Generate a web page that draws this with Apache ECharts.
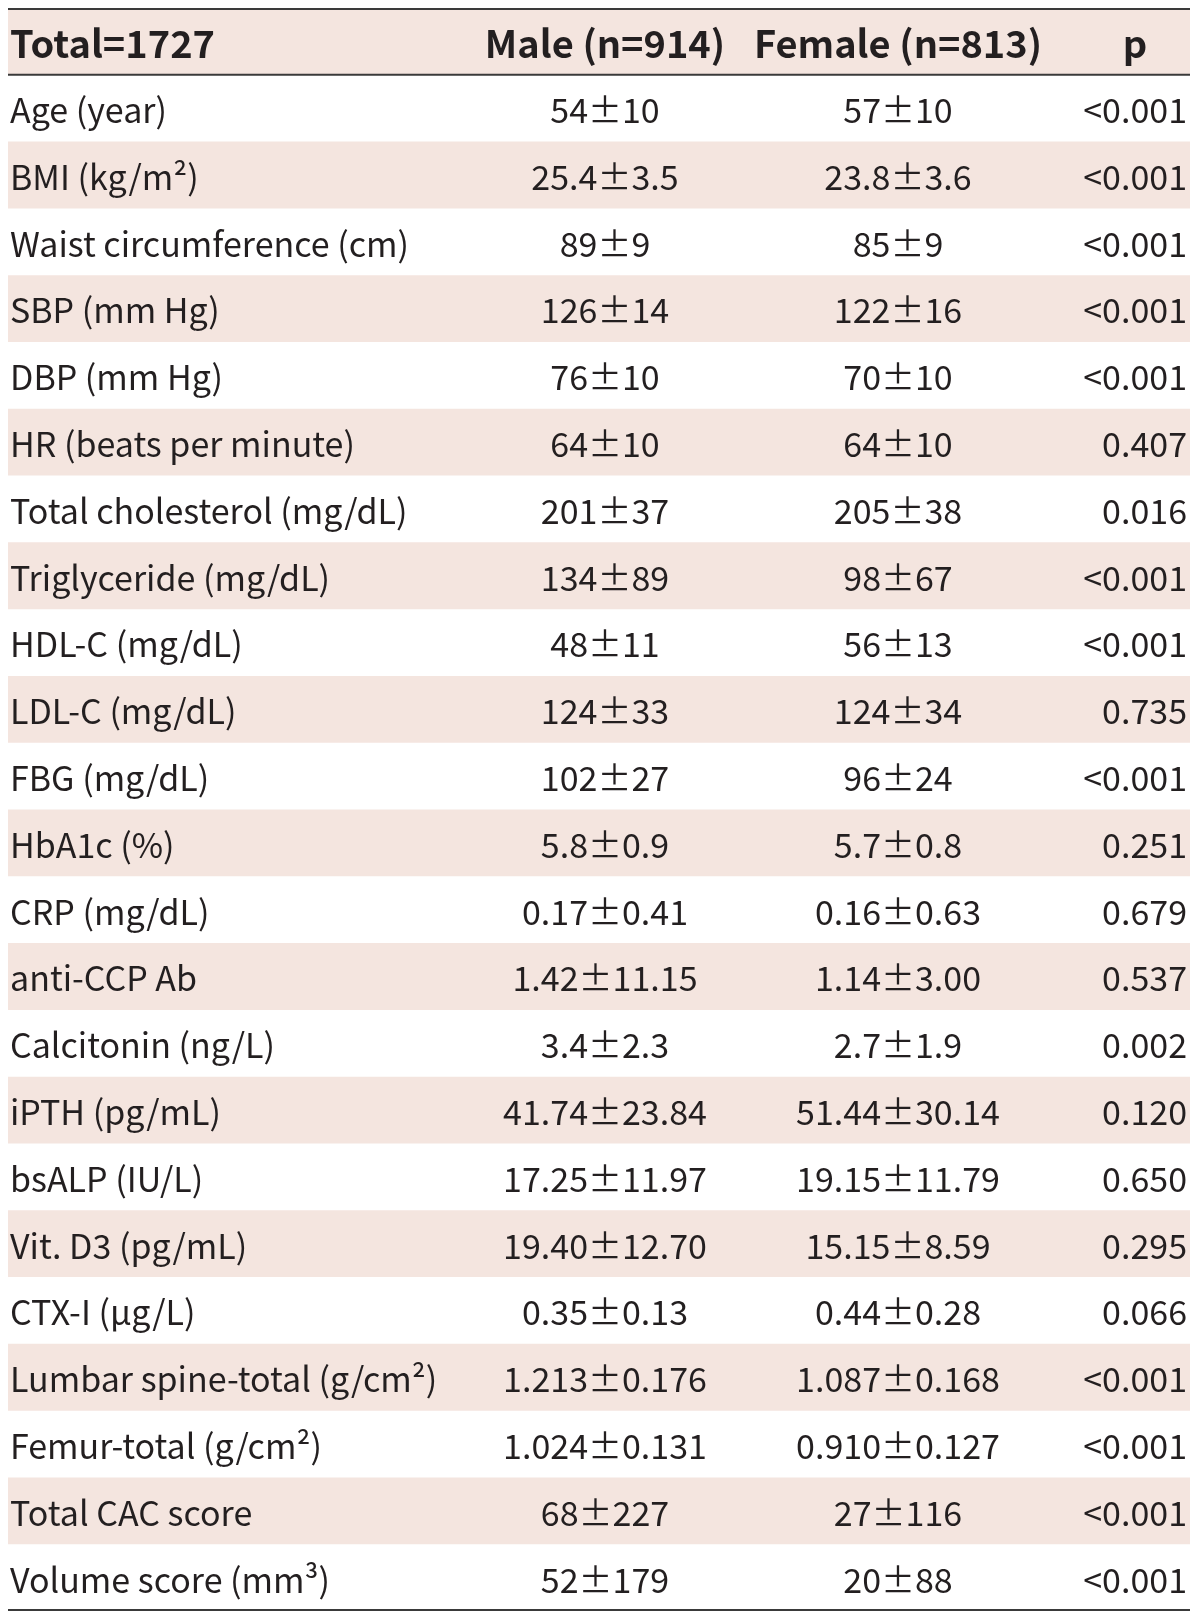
<!DOCTYPE html>
<html>
<head>
<meta charset="utf-8">
<script src="https://cdn.jsdelivr.net/npm/echarts@6/dist/echarts.min.js"></script>
<style>html,body{margin:0;padding:0;background:#fff}#c{width:1200px;height:1622px}</style>
</head>
<body>
<div id="c"></div>
<script>
const headerLabels = ['Total=1727', 'Male (n=914)', 'Female (n=813)', 'p'];
const rowLabels = [
  'Age (year)', 'BMI (kg/m²)', 'Waist circumference (cm)', 'SBP (mm Hg)', 'DBP (mm Hg)',
  'HR (beats per minute)', 'Total cholesterol (mg/dL)', 'Triglyceride (mg/dL)', 'HDL-C (mg/dL)',
  'LDL-C (mg/dL)', 'FBG (mg/dL)', 'HbA1c (%)', 'CRP (mg/dL)', 'anti-CCP Ab', 'Calcitonin (ng/L)',
  'iPTH (pg/mL)', 'bsALP (IU/L)', 'Vit. D3 (pg/mL)', 'CTX-I (µg/L)', 'Lumbar spine-total (g/cm²)',
  'Femur-total (g/cm²)', 'Total CAC score', 'Volume score (mm³)'
];
const maleValues = [
  '54±10', '25.4±3.5', '89±9', '126±14', '76±10', '64±10', '201±37', '134±89', '48±11',
  '124±33', '102±27', '5.8±0.9', '0.17±0.41', '1.42±11.15', '3.4±2.3', '41.74±23.84',
  '17.25±11.97', '19.40±12.70', '0.35±0.13', '1.213±0.176', '1.024±0.131', '68±227', '52±179'
];
const femaleValues = [
  '57±10', '23.8±3.6', '85±9', '122±16', '70±10', '64±10', '205±38', '98±67', '56±13',
  '124±34', '96±24', '5.7±0.8', '0.16±0.63', '1.14±3.00', '2.7±1.9', '51.44±30.14',
  '19.15±11.79', '15.15±8.59', '0.44±0.28', '1.087±0.168', '0.910±0.127', '27±116', '20±88'
];
const pValues = [
  '<0.001', '<0.001', '<0.001', '<0.001', '<0.001', '0.407', '0.016', '<0.001', '<0.001',
  '0.735', '<0.001', '0.251', '0.679', '0.537', '0.002', '0.120', '0.650', '0.295', '0.066',
  '<0.001', '<0.001', '<0.001', '<0.001'
];

// layout (not data)
const TABLE_W = 1182;
const COLS = { label: 2, male: 597, female: 890, pRight: 1179, pHead: 1127 };
const STRIPE = '#f4e5df';
const INK = '#231f20';
const RULE = '#3a3a3a';
const BODY_FONT = '34px "Noto Sans CJK KR", "Liberation Sans", sans-serif';
const HEAD_FONT = 'bold 38px "Noto Sans CJK KR", "Liberation Sans", sans-serif';

const categories = ['__header__'].concat(rowLabels);
const rows = [headerLabels].concat(rowLabels.map((l, i) => [l, maleValues[i], femaleValues[i], pValues[i]]));
const nRows = rows.length;

function txt(x, y, text, font, align) {
  return {
    type: 'text', x: x, y: y,
    style: { text: text, font: font, fill: INK, align: align, verticalAlign: 'middle',
             textAlign: align, textVerticalAlign: 'middle' }
  };
}

const chart = echarts.init(document.getElementById('c'), null, { renderer: 'canvas' });
chart.setOption({
  animation: false,
  backgroundColor: '#ffffff',
  grid: { left: 8, top: 8, width: TABLE_W, height: 1603 },
  xAxis: { type: 'value', min: 0, max: TABLE_W, show: false },
  yAxis: { type: 'category', data: categories, inverse: true, show: false, boundaryGap: true },
  series: [{
    type: 'custom',
    coordinateSystem: 'cartesian2d',
    data: categories.map((c, i) => [0, c]),
    encode: { x: 0, y: 1 },
    clip: false,
    renderItem: function (params, api) {
      const i = params.dataIndex;
      const r = rows[i];
      const c0 = api.coord([0, api.value(1)]);
      const h = api.size([0, 1])[1];
      const xL = api.coord([0, 0])[0];
      const xR = api.coord([TABLE_W, 0])[0];
      const X = v => api.coord([v, 0])[0];
      const yc = c0[1];
      const top = yc - h / 2, bot = yc + h / 2;
      const children = [];
      if (i % 2 === 0) {
        children.push({ type: 'rect', shape: { x: xL, y: top, width: xR - xL, height: h }, style: { fill: STRIPE } });
      }
      if (i === 0) {
        children.push({ type: 'line', shape: { x1: xL, y1: top + 1, x2: xR, y2: top + 1 }, style: { stroke: RULE, lineWidth: 2 } });
        children.push({ type: 'line', shape: { x1: xL, y1: bot, x2: xR, y2: bot }, style: { stroke: RULE, lineWidth: 2 } });
        children.push(txt(X(COLS.label), yc + 2, r[0], HEAD_FONT, 'left'));
        children.push(txt(X(COLS.male), yc + 2, r[1], HEAD_FONT, 'center'));
        children.push(txt(X(COLS.female), yc + 2, r[2], HEAD_FONT, 'center'));
        children.push(txt(X(COLS.pHead), yc + 2, r[3], HEAD_FONT, 'center'));
      } else {
        children.push(txt(X(COLS.label), yc + 2, r[0], BODY_FONT, 'left'));
        children.push(txt(X(COLS.male), yc + 2, r[1], BODY_FONT, 'center'));
        children.push(txt(X(COLS.female), yc + 2, r[2], BODY_FONT, 'center'));
        children.push(txt(X(COLS.pRight), yc + 2, r[3], BODY_FONT, 'right'));
      }
      if (i === nRows - 1) {
        children.push({ type: 'line', shape: { x1: xL, y1: bot - 1, x2: xR, y2: bot - 1 }, style: { stroke: RULE, lineWidth: 2 } });
      }
      return { type: 'group', children: children };
    }
  }]
});
</script>
</body>
</html>
